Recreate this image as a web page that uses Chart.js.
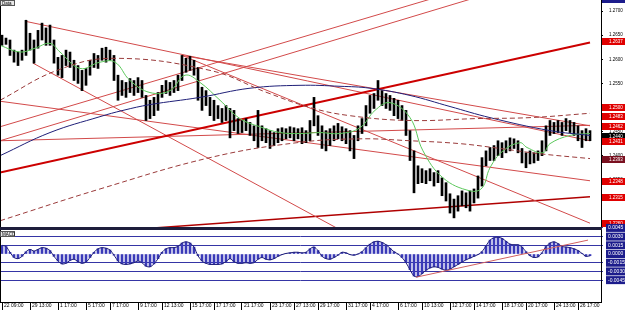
<!DOCTYPE html>
<html lang="en">
<head>
    <meta charset="utf-8">
    <title>EURUSD H4 - MACD</title>
    <script src="https://cdn.jsdelivr.net/npm/chart.js"></script>
    <style>
        html, body { margin: 0; padding: 0; background: #fff; }
        #page { position: relative; width: 625px; height: 311px; overflow: hidden; }
        #priceBox { position: absolute; left: 0; top: 0; width: 625px; height: 228px; }
        #macdBox { position: absolute; left: 0; top: 222px; width: 625px; height: 89px; }
        #divider { position: absolute; left: 0; top: 227px; width: 602px; height: 3px; background: #1e1e3c; }
    </style>
</head>
<body>
<div id="page">
    <div id="priceBox"><canvas id="priceChart" width="625" height="228"></canvas></div>
    <div id="macdBox"><canvas id="macdChart" width="625" height="89"></canvas></div>
    <div id="divider"></div>
</div>

<script>
    // bar highs / lows (one H4 bar per entry)
    let highs = [
        1.2650,1.2644,1.2640,1.2619,1.2615,1.2619,1.2681,1.2654,1.2640,1.2660,
        1.2675,1.2665,1.2671,1.2640,1.2604,1.2608,1.2619,1.2615,1.2598,1.2587,
        1.2577,1.2581,1.2598,1.2612,1.2608,1.2623,1.2625,1.2619,1.2608,1.2567,
        1.2556,1.2552,1.2560,1.2556,1.2562,1.2556,1.2525,1.2515,1.2521,1.2531,
        1.2546,1.2556,1.2552,1.2556,1.2567,1.2608,1.2602,1.2606,1.2598,1.2583,
        1.2542,1.2535,1.2521,1.2515,1.2504,1.2498,1.2504,1.2498,1.2494,1.2477,
        1.2473,1.2477,1.2469,1.2462,1.2494,1.2462,1.2456,1.2452,1.2448,1.2456,
        1.2458,1.2456,1.2460,1.2458,1.2456,1.2458,1.2452,1.2473,1.2521,1.2483,
        1.2462,1.2452,1.2456,1.2462,1.2467,1.2460,1.2456,1.2452,1.2442,1.2462,
        1.2477,1.2504,1.2525,1.2529,1.2556,1.2535,1.2529,1.2525,1.2519,1.2515,
        1.2504,1.2494,1.2452,1.2410,1.2379,1.2373,1.2369,1.2373,1.2365,1.2369,
        1.2354,1.2344,1.2321,1.2310,1.2317,1.2327,1.2323,1.2327,1.2331,1.2358,
        1.2396,1.2410,1.2417,1.2421,1.2431,1.2427,1.2431,1.2437,1.2435,1.2431,
        1.2415,1.2406,1.2410,1.2406,1.2410,1.2431,1.2462,1.2473,1.2469,1.2473,
        1.2469,1.2477,1.2473,1.2469,1.2462,1.2452,1.2456,1.2452
    ];
    let lows = [
        1.2629,1.2631,1.2608,1.2594,1.2587,1.2598,1.2608,1.2619,1.2592,1.2623,
        1.2640,1.2629,1.2629,1.2592,1.2567,1.2562,1.2587,1.2583,1.2556,1.2550,
        1.2535,1.2546,1.2567,1.2583,1.2581,1.2598,1.2594,1.2598,1.2556,1.2515,
        1.2525,1.2521,1.2531,1.2525,1.2531,1.2521,1.2473,1.2477,1.2483,1.2494,
        1.2521,1.2529,1.2525,1.2531,1.2535,1.2556,1.2573,1.2577,1.2567,1.2515,
        1.2494,1.2504,1.2483,1.2473,1.2477,1.2469,1.2473,1.2437,1.2452,1.2446,
        1.2448,1.2452,1.2442,1.2431,1.2417,1.2431,1.2427,1.2415,1.2421,1.2427,
        1.2431,1.2435,1.2437,1.2431,1.2435,1.2425,1.2427,1.2431,1.2462,1.2442,
        1.2415,1.2410,1.2421,1.2431,1.2435,1.2431,1.2425,1.2410,1.2394,1.2431,
        1.2446,1.2462,1.2488,1.2498,1.2515,1.2504,1.2498,1.2494,1.2483,1.2477,
        1.2473,1.2442,1.2390,1.2323,1.2342,1.2344,1.2342,1.2348,1.2337,1.2344,
        1.2317,1.2306,1.2281,1.2271,1.2285,1.2296,1.2292,1.2285,1.2302,1.2312,
        1.2337,1.2379,1.2390,1.2390,1.2400,1.2396,1.2406,1.2410,1.2415,1.2406,
        1.2385,1.2375,1.2383,1.2385,1.2390,1.2400,1.2410,1.2442,1.2446,1.2448,
        1.2442,1.2452,1.2448,1.2442,1.2431,1.2417,1.2431,1.2431
    ];
    // MACD histogram, same bars
    let macd = [
        0.0015,0.0013,0.0003,-0.0006,-0.0008,-0.0004,0.0004,0.0008,0.0005,0.0008,
        0.0011,0.0010,0.0006,-0.0004,-0.0012,-0.0017,-0.0016,-0.0011,-0.0009,-0.0013,
        -0.0016,-0.0014,-0.0006,0.0003,0.0009,0.0011,0.0010,0.0007,-0.0002,-0.0012,
        -0.0017,-0.0018,-0.0017,-0.0015,-0.0012,-0.0015,-0.0021,-0.0022,-0.0017,-0.0008,
        0.0003,0.0009,0.0011,0.0011,0.0013,0.0019,0.0021,0.0019,0.0012,-0.0003,
        -0.0012,-0.0016,-0.0018,-0.0018,-0.0018,-0.0017,-0.0013,-0.0008,-0.0013,-0.0016,
        -0.0016,-0.0015,-0.0016,-0.0015,-0.0009,-0.0006,-0.0009,-0.0010,-0.0008,-0.0004,
        -0.0001,0.0001,0.0002,0.0003,0.0003,0.0002,0.0003,0.0009,0.0012,0.0006,
        -0.0004,-0.0008,-0.0009,-0.0006,-0.0002,0.0003,0.0002,-0.0001,-0.0002,0.0000,
        0.0004,0.0011,0.0017,0.0021,0.0022,0.0020,0.0016,0.0010,0.0004,0.0000,
        -0.0006,-0.0015,-0.0027,-0.0038,-0.0039,-0.0034,-0.0028,-0.0024,-0.0022,-0.0023,
        -0.0026,-0.0028,-0.0026,-0.0022,-0.0018,-0.0014,-0.0010,-0.0007,-0.0004,-0.0001,
        0.0004,0.0014,0.0024,0.0028,0.0029,0.0027,0.0022,0.0017,0.0016,0.0016,
        0.0012,0.0004,-0.0003,-0.0006,-0.0005,0.0002,0.0013,0.0019,0.0021,0.0018,
        0.0013,0.0012,0.0011,0.0009,0.0006,0.0001,-0.0004,-0.0003
    ];

    // moving averages as [bar, price] points
    let fastMa = [[-0.5,1.2629],[4.5,1.2615],[8.25,1.2623],[12,1.2633],[14.5,1.2615],[19.5,1.2581],[24.5,1.2594],
        [28.25,1.2594],[32,1.2556],[37,1.2531],[42,1.2535],[45.75,1.2567],[49.5,1.2552],[54.5,1.2515],[59.5,1.2477],
        [64.5,1.2460],[69.5,1.2448],[74.5,1.2446],[79.5,1.2448],[84.5,1.2446],[89.5,1.2458],[93.25,1.2494],[97,1.2510],
        [102,1.2479],[105.25,1.2410],[110.25,1.2354],[117,1.2327],[120,1.2333],[122,1.2375],[125.25,1.2410],
        [129.5,1.2427],[131.25,1.2417],[135.25,1.2406],[137,1.2425],[142,1.2442],[147,1.2446]];
    let slowMa = [[-0.5,1.2400],[12,1.2448],[24.5,1.2481],[30.25,1.2494],[37,1.2506],[49.5,1.2521],[62,1.2540],
        [74.5,1.2546],[84.5,1.2544],[92,1.2540],[102,1.2525],[112,1.2502],[122,1.2479],[137,1.2452],[147,1.2442]];
    let upperBand = [[-0.5,1.2515],[13.75,1.2577],[27.75,1.2602],[52,1.2577],[66.25,1.2531],[77,1.2500],
        [87,1.2483],[102,1.2473],[118.75,1.2477],[132,1.2479],[147,1.2488]];
    let lowerBand = [[-0.5,1.2265],[24.5,1.2331],[52,1.2396],[73.75,1.2427],[89.5,1.2435],[102,1.2431],
        [114.5,1.2425],[124.5,1.2415],[134.5,1.2404],[147,1.2394]];

    // drawn trend lines: [bar, price] -> [bar, price]
    let thickTrend = [[-0.5,1.2365],[147,1.2635]];
    let riseA = [[-0.5,1.2460],[110,1.2732]];
    let riseB = [[-0.5,1.2431],[120,1.2732]];
    let fallA = [[5.75,1.2679],[147,1.2431]];
    let fallB = [[45,1.2608],[147,1.2462]];
    let fallSteep = [[7.75,1.2592],[87,1.2235]];
    let fallC = [[45,1.2608],[147,1.2260]];
    let fallD = [[-0.5,1.2513],[147,1.2348]];
    let flatLine = [[-0.5,1.2431],[147,1.2463]];
    let supportLine = [[34.5,1.2248],[147,1.2315]];
    let macdTrend = [[103.5,-0.0040],[146.5,0.0024]];

    // axis labels
    let priceTicks = [1.2350, 1.2400, 1.2450, 1.2500, 1.2550, 1.2600, 1.2650, 1.2700];
    let macdTicks = [-0.0045, -0.0030, -0.0015, 0, 0.0015, 0.0030, 0.0045];
    let levelPrices = [1.2637, 1.2500, 1.2483, 1.2462, 1.2440, 1.2431, 1.2393, 1.2348, 1.2315, 1.2260];
    let levelColors = ['#e00000','#e00000','#e00000','#e00000','#000000','#e00000','#7a1020','#e00000','#e00000','#e00000'];
    let timeBars = [0,7,14,21,27,34,40,47,53,60,67,73,79,86,92,99,105,112,118,125,131,138,144];
    let timeLabels = ['22 09:00','29 13:00','1 17:00','5 17:00','7 17:00','9 17:00','12 13:00','15 17:00',
        '17 17:00','21 17:00','23 17:00','27 13:00','29 17:00','31 17:00','4 17:00','6 17:00','10 13:00',
        '12 17:00','14 17:00','18 17:00','20 17:00','24 13:00','26 17:00'];

    Chart.defaults.font.family = '"Liberation Sans", Arial, sans-serif';
    Chart.defaults.animation = false;

    function line(points, color, width, extra) {
        return Object.assign({
            type: 'line',
            data: points.map(p => ({ x: p[0], y: p[1] })),
            borderColor: color,
            borderWidth: width,
            pointRadius: 0,
            fill: false,
            order: 3
        }, extra || {});
    }

    function smallBox(ctx, x, y, text) {
        ctx.fillStyle = '#e8e8e8';
        ctx.fillRect(x, y, 15, 6);
        ctx.strokeStyle = '#555';
        ctx.strokeRect(x + 0.5, y + 0.5, 14, 5);
        ctx.fillStyle = '#000';
        ctx.font = '4.5px "Liberation Sans"';
        ctx.textBaseline = 'middle';
        ctx.fillText(text, x + 2, y + 3.3);
    }

    let thinRed = '#d24a4a';
    let lastBar = 149.75;

    new Chart(document.getElementById('priceChart'), {
        type: 'line',
        data: {
            datasets: [
                line(thickTrend, '#cc0000', 2),
                line(riseA, thinRed, 1),
                line(riseB, thinRed, 1),
                line(fallA, thinRed, 1),
                line(fallB, thinRed, 1),
                line(fallSteep, thinRed, 1),
                line(fallC, thinRed, 1),
                line(fallD, thinRed, 1),
                line(flatLine, thinRed, 1),
                line(supportLine, '#b00000', 1.5),
                {
                    type: 'bar',
                    data: highs.map((h, i) => ({ x: i, y: [lows[i], h] })),
                    backgroundColor: '#000',
                    barThickness: 2,
                    order: 2
                },
                line(upperBand, '#9a3a3a', 1, { borderDash: [5, 3], tension: 0.4, order: 1 }),
                line(lowerBand, '#9a3a3a', 1, { borderDash: [5, 3], tension: 0.4, order: 1 }),
                line(slowMa, '#1f1f78', 1, { tension: 0.4, order: 1 }),
                line(fastMa, '#5cc85c', 1, { tension: 0.4, order: 1 })
            ]
        },
        options: {
            responsive: false,
            devicePixelRatio: 1,
            layout: { padding: 0 },
            plugins: { legend: { display: false }, tooltip: { enabled: false } },
            scales: {
                x: { type: 'linear', min: -0.5, max: lastBar, offset: false, display: false },
                y: {
                    position: 'right',
                    min: 1.2250,
                    max: 1.2723,
                    afterBuildTicks: s => { s.ticks = priceTicks.map(v => ({ value: v })); },
                    afterFit: s => { s.width = 24; s.paddingTop = 0; s.paddingBottom = 0; },
                    ticks: { font: { size: 4.5 }, color: '#000', padding: 6, callback: v => v.toFixed(4) },
                    grid: { drawOnChartArea: false, tickLength: 2, color: '#000' },
                    border: { color: '#000' }
                }
            }
        },
        plugins: [{
            id: 'priceLabels',
            afterDraw(chart) {
                let ctx = chart.ctx, y = chart.scales.y, a = chart.chartArea;
                ctx.save();
                ctx.strokeStyle = '#000';
                ctx.beginPath();
                ctx.moveTo(0.5, 0);
                ctx.lineTo(0.5, a.bottom);
                ctx.stroke();
                ctx.font = '4.5px "Liberation Sans"';
                ctx.textBaseline = 'middle';
                levelPrices.forEach((p, k) => {
                    let py = Math.round(y.getPixelForValue(p));
                    ctx.fillStyle = levelColors[k];
                    ctx.fillRect(a.right + 1, py - 3, 24, 7);
                    ctx.fillStyle = '#fff';
                    ctx.fillText(p.toFixed(4), a.right + 8, py + 0.5);
                });
                ctx.fillStyle = '#1c1c8c';
                ctx.fillRect(a.right + 1, 0, 24, 3);
                smallBox(ctx, 0, 0, 'Data');
                ctx.restore();
            }
        }]
    });

    new Chart(document.getElementById('macdChart'), {
        type: 'line',
        data: {
            datasets: [
                {
                    type: 'bar',
                    data: macd.map((v, i) => ({ x: i, y: v })),
                    backgroundColor: '#3a3ab8',
                    barThickness: 2,
                    order: 2
                },
                line(macd.map((v, i) => [i, v]), '#22227a', 1, { tension: 0.3, order: 1 }),
                line(macdTrend, '#d06060', 1, { order: 0 })
            ]
        },
        options: {
            responsive: false,
            devicePixelRatio: 1,
            layout: { padding: { top: 8, left: 0, right: 0, bottom: 0 } },
            plugins: { legend: { display: false }, tooltip: { enabled: false } },
            scales: {
                x: {
                    type: 'linear',
                    min: -0.5,
                    max: lastBar,
                    offset: false,
                    afterBuildTicks: s => { s.ticks = timeBars.map(v => ({ value: v })); },
                    afterFit: s => { s.height = 9; s.paddingLeft = 0; s.paddingRight = 0; },
                    ticks: {
                        autoSkip: false, maxRotation: 0, minRotation: 0, align: 'start',
                        labelOffset: 2, padding: -7, font: { size: 5 }, color: '#000',
                        callback: (v, i) => timeLabels[i]
                    },
                    grid: { drawOnChartArea: false, offset: false, tickLength: 8, color: '#000' },
                    border: { color: '#000' }
                },
                y: {
                    position: 'right',
                    min: -0.00827,
                    max: 0.00414,
                    afterBuildTicks: s => { s.ticks = macdTicks.map(v => ({ value: v })); },
                    afterFit: s => { s.width = 24; s.paddingTop = 0; s.paddingBottom = 0; },
                    ticks: {
                        font: { size: 5 }, color: '#fff', padding: 5,
                        showLabelBackdrop: true, backdropColor: '#1c1c8c',
                        backdropPadding: { left: 2, right: 4, top: 1, bottom: 1 },
                        callback: v => v.toFixed(4)
                    },
                    grid: {
                        color: c => (c.tick && c.tick.value === 0) ? 'rgba(0,0,0,0)' : '#3535a5',
                        tickLength: 2
                    },
                    border: { color: '#000' }
                }
            }
        },
        plugins: [{
            id: 'macdLabel',
            afterDraw(chart) {
                let ctx = chart.ctx, a = chart.chartArea;
                ctx.save();
                ctx.strokeStyle = '#000';
                ctx.beginPath();
                ctx.moveTo(0.5, a.top);
                ctx.lineTo(0.5, a.bottom);
                ctx.stroke();
                smallBox(ctx, 0, a.top + 1, 'MACD');
                ctx.restore();
            }
        }]
    });
</script>
</body>
</html>
